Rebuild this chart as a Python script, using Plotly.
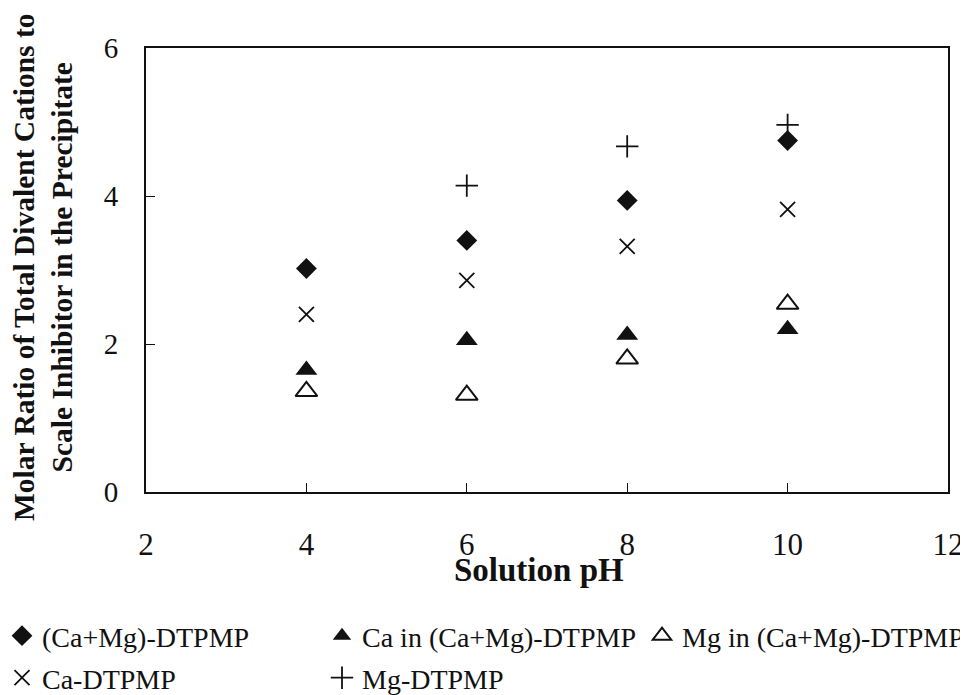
import plotly.graph_objects as go

ph = [4, 6, 8, 10]
ph_mg = [6, 8, 10]

camg_total = [3.02, 3.40, 3.94, 4.75]
ca_in_camg = [1.65, 2.05, 2.12, 2.20]
mg_in_camg = [1.36, 1.31, 1.80, 2.54]
ca_dtpmp = [2.40, 2.86, 3.32, 3.82]
mg_dtpmp = [4.14, 4.67, 4.96]

x_ticks = [2, 4, 6, 8, 10, 12]
y_ticks = [0, 2, 4, 6]

FONT = "Liberation Serif"
BLACK = "#111111"

fig = go.Figure()
fig.add_trace(go.Scatter(x=ph, y=camg_total, mode="markers", name="(Ca+Mg)-DTPMP",
                         marker=dict(symbol="diamond", size=16, color=BLACK), legend="legend"))
fig.add_trace(go.Scatter(x=ph, y=ca_in_camg, mode="markers", name="Ca in (Ca+Mg)-DTPMP",
                         marker=dict(symbol="triangle-up", size=19, color=BLACK), legend="legend"))
fig.add_trace(go.Scatter(x=ph, y=mg_in_camg, mode="markers", name="Mg in (Ca+Mg)-DTPMP",
                         marker=dict(symbol="triangle-up-open", size=19, color=BLACK,
                                     line=dict(width=2, color=BLACK)), legend="legend3"))
fig.add_trace(go.Scatter(x=ph, y=ca_dtpmp, mode="markers", name="Ca-DTPMP",
                         marker=dict(symbol="x-thin-open", size=15, color=BLACK,
                                     line=dict(width=1.8, color=BLACK)), legend="legend2"))
fig.add_trace(go.Scatter(x=ph_mg, y=mg_dtpmp, mode="markers", name="Mg-DTPMP",
                         marker=dict(symbol="cross-thin-open", size=16, color=BLACK,
                                     line=dict(width=1.8, color=BLACK)), legend="legend2"))

axis_common = dict(showgrid=False, zeroline=False, showline=True, linecolor=BLACK,
                   linewidth=2, mirror=True, ticks="inside", ticklen=9, tickwidth=1,
                   tickcolor=BLACK)

fig.update_xaxes(range=[2, 12], tickvals=x_ticks, ticktext=[str(v) for v in x_ticks],
                 tickfont=dict(family=FONT, size=31, color=BLACK),
                 ticklabelstandoff=24, **axis_common)
fig.update_yaxes(range=[0, 6], tickvals=y_ticks, ticktext=[str(v) for v in y_ticks],
                 tickfont=dict(family=FONT, size=29, color=BLACK),
                 ticklabelstandoff=20, **axis_common)

# page has an 8px body margin; figure coordinates are page minus 8
PLOT_L, PLOT_W, PLOT_T, PLOT_H = 138, 802, 40, 444
PLOT_B = PLOT_T + PLOT_H


def px_x(px):
    return (px - PLOT_L) / PLOT_W


def px_y(py):
    return (PLOT_B - py) / PLOT_H


legend_common = dict(orientation="h", xref="paper", yref="paper",
                     xanchor="left", yanchor="middle", entrywidth=275,
                     entrywidthmode="pixels", bgcolor="rgba(0,0,0,0)",
                     font=dict(family=FONT, size=28, color=BLACK),
                     itemsizing="trace", tracegroupgap=0)

fig.update_layout(
    width=960, height=687,
    margin=dict(l=PLOT_L, r=960 - PLOT_L - PLOT_W, t=PLOT_T, b=687 - PLOT_T - PLOT_H,
                autoexpand=False),
    plot_bgcolor="white", paper_bgcolor="white",
    showlegend=True,
    legend=dict(x=px_x(-6), y=px_y(628), **legend_common),
    legend3=dict(x=px_x(634), y=px_y(628), **legend_common),
    legend2=dict(x=px_x(-6), y=px_y(670), **legend_common),
    annotations=[
        dict(text="Solution pH", xref="paper", yref="paper", x=0.49, y=0,
             yshift=-58, yanchor="top", showarrow=False,
             font=dict(family=FONT, size=33, color=BLACK, weight="bold")),
        dict(text="Molar Ratio of Total Divalent Cations to<br>Scale Inhibitor in the Precipitate",
             xref="paper", yref="paper", x=0, xshift=-103, xanchor="center",
             y=px_y(259), yanchor="middle", textangle=-90,
             showarrow=False, align="center",
             font=dict(family=FONT, size=29.5, color=BLACK, weight="bold")),
    ],
)

fig.write_html("out.html")
